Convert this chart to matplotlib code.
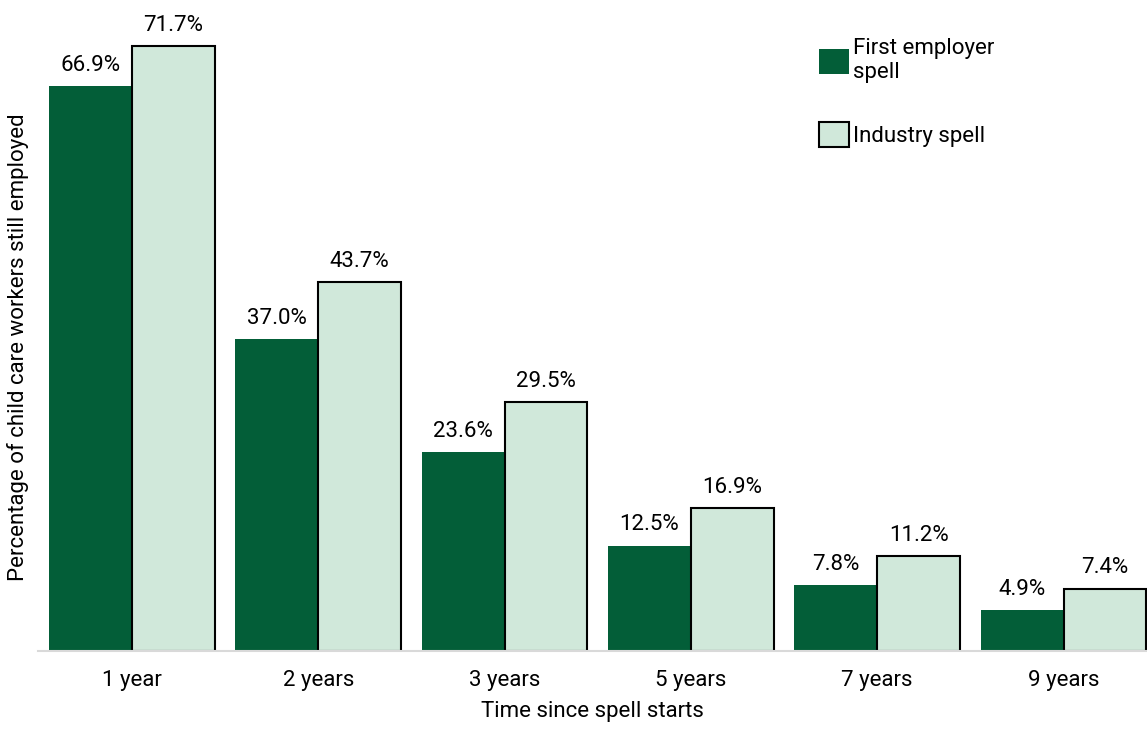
import numpy as np
from matplotlib import pyplot as plt

categories = ["1 year", "2 years", "3 years", "5 years", "7 years", "9 years"]
first_employer = [66.9, 37.0, 23.6, 12.5, 7.8, 4.9]
industry = [71.7, 43.7, 29.5, 16.9, 11.2, 7.4]

dark = "#035e38"
light = "#d0e8da"

plt.rcParams['font.family'] = ['Roboto', 'DejaVu Sans']
fs = 16

fig = plt.figure(figsize=(11.47, 7.29), dpi=100)
ax = fig.add_axes([38/1147, 78/729, 1109/1147, (651-18)/729])

x = np.arange(len(categories))
w = 0.445
ax.bar(x - w/2, first_employer, w, color=dark, label="First employer\nspell")
ax.bar(x + w/2, industry, w, color=light, edgecolor="black", linewidth=1.5,
       label="Industry spell")

for xi, v in zip(x, first_employer):
    ax.text(xi - w/2, v + 1.2, f"{v:.1f}%", ha="center", va="bottom", fontsize=fs)
for xi, v in zip(x, industry):
    ax.text(xi + w/2, v + 1.2, f"{v:.1f}%", ha="center", va="bottom", fontsize=fs)

ax.set_xlim(-0.504, 5.448)
ax.set_ylim(0, 75)
ax.set_xticks(x)
ax.set_xticklabels(categories, fontsize=fs)
ax.tick_params(axis="x", length=0, pad=14)
ax.set_yticks([])
for s in ["top", "right", "left"]:
    ax.spines[s].set_visible(False)
ax.spines["bottom"].set_color("#d9d9d9")
ax.spines["bottom"].set_linewidth(1.5)

ax.set_xlabel("Time since spell starts", fontsize=fs, labelpad=7)
ax.set_ylabel("Percentage of child care workers still employed", fontsize=fs)
ax.yaxis.set_label_coords(-0.008, 0.48)

ax.legend(loc="upper left", bbox_to_anchor=(0.686, 1.0), frameon=False, fontsize=fs,
          handlelength=1.35, handleheight=1.35, handletextpad=0.2, labelspacing=1.75)

fig.savefig("out.png", dpi=100)
